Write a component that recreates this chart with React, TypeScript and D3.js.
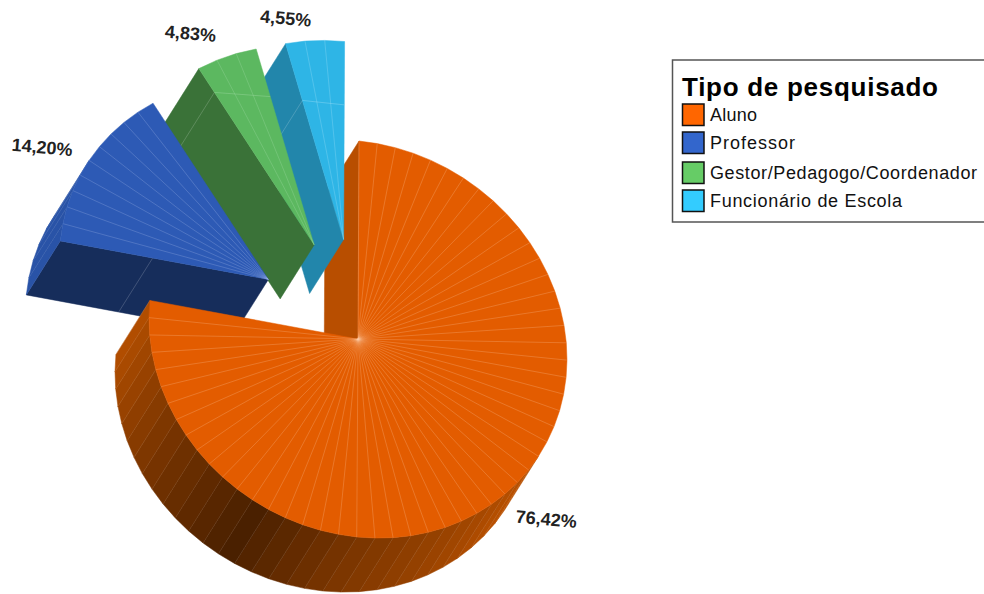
import React from "react";
import * as d3 from "d3";

// Survey respondents by type, in percent
const categories = ["Aluno", "Professor", "Gestor/Pedagogo/Coordenador", "Funcionário de Escola"];
const shares = [76.42, 14.2, 4.83, 4.55];
const legendTitle = "Tipo de pesquisado";

// Colours of each slice: legend swatch, top face, cut wall, outer rim
const swatchColors = ["#ff6600", "#3366cc", "#66cc66", "#33ccff"];
const topColors = ["#e35c00", "#2d5ab5", "#5cb860", "#2eb5e6"];
const wallColors = ["#b84e00", "#162d5b", "#3a7238", "#2286ab"];
const rimColors = ["#b85000", "#2b56ae", "#3a7238", "#2286ab"];
const rayColors = ["#ffd0a8", "#b8c8f0", "#b8e8bc", "#c0ecfa"];

const W = 984;
const H = 594;
const CX = 358;
const CY = 339;
const EXTRUDE: [number, number] = [-34, 54];
const FACET_DEG = 5;
const EXPLODE = [0, 0.5, 0.5, 0.5];
// Where the polygon mesh of each wall crosses its edge, as a fraction of the radius
const wallMesh = [0, 0.556, 0.865, 0.71];
// Far end of the mesh chord on the top face (fraction along the closing edge)
const chordEnd = [0, 0, 0.757, 0.68];
const labelNudge: [number, number][] = [[48, 20], [-47, -13], [-36, -23], [-29, -22]];

type P = [number, number];

// Tilted-disc projection; the angle runs clockwise from 12 o'clock
const project = (a: number, r = 1): P => [
  r * (209 * Math.sin(a) + Math.cos(a)),
  r * (21 * Math.sin(a) - 198 * Math.cos(a)),
];
const add = (p: P, q: P): P => [p[0] + q[0], p[1] + q[1]];
const poly = d3.line<P>().curve(d3.curveLinearClosed);
const seg = d3.line<P>();

// Rim brightness depends on how each facet faces the light
const rimLight = d3
  .scaleLinear<number>()
  .domain([128, 180, 208, 240, 272])
  .range([1, 0.66, 0.4, 0.66, 0.96])
  .clamp(true);

const rimVisible = (a: number) => {
  const [nx, ny] = project(a);
  return nx * EXTRUDE[0] + ny * EXTRUDE[1] > 0;
};

const arcs = d3
  .pie<number>()
  .sort(null)
  .startAngle(0)
  .endAngle(2 * Math.PI)(shares);

function Slice({ i }: { i: number }) {
  const arc = arcs[i];
  const mid = (arc.startAngle + arc.endAngle) / 2;
  const center = add([CX, CY], project(mid, EXPLODE[i]));
  const span = arc.endAngle - arc.startAngle;
  const n = Math.round((span * 180) / Math.PI / FACET_DEG);
  const angles = d3.range(n + 1).map((k) => arc.startAngle + (span * k) / n);
  const rim = angles.map((a) => add(center, project(a)));
  const rays = rim.map((p) => seg([center, p]) as string);

  const facets = angles.slice(0, -1).map((a, k) => {
    const m = (a + angles[k + 1]) / 2;
    if (!rimVisible(m)) return null;
    const shade = d3.interpolateRgb("#000", rimColors[i])(rimLight((m * 180) / Math.PI));
    const pts: P[] = [rim[k], rim[k + 1], add(rim[k + 1], EXTRUDE), add(rim[k], EXTRUDE)];
    return (
      <g key={k}>
        <path d={poly(pts) as string} fill={shade} stroke={shade} strokeWidth={0.5} />
        <path d={seg([rim[k + 1], add(rim[k + 1], EXTRUDE)]) as string} stroke="#fff" strokeOpacity={0.22} strokeWidth={0.6} />
      </g>
    );
  });

  const chordStart = add(center, project(arc.startAngle, wallMesh[i]));
  const chordStop = add(center, project(arc.endAngle, chordEnd[i]));

  return (
    <g>
      {facets}
      {wallMesh[i] > 0 && (
        <path
          d={seg([chordStart, add(chordStart, EXTRUDE)]) as string}
          stroke="#fff"
          strokeOpacity={0.3}
          strokeWidth={0.6}
        />
      )}
      <path d={poly([center, ...rim]) as string} fill={topColors[i]} stroke={topColors[i]} strokeWidth={0.5} />
      {rays.slice(i === 0 ? 0 : 1, -1).map((d, k) => (
        <path key={k} d={d} stroke={rayColors[i]} strokeOpacity={0.42} strokeWidth={0.6} fill="none" />
      ))}
      {chordEnd[i] > 0 && (
        <path d={seg([chordStart, chordStop]) as string} stroke={rayColors[i]} strokeOpacity={0.5} strokeWidth={0.6} />
      )}
    </g>
  );
}

function Wall({ i }: { i: number }) {
  const arc = arcs[i];
  const mid = (arc.startAngle + arc.endAngle) / 2;
  const center = add([CX, CY], project(mid, EXPLODE[i]));
  const edge = add(center, project(arc.startAngle));
  const pts: P[] = [center, edge, add(edge, EXTRUDE), add(center, EXTRUDE)];
  return <path d={poly(pts) as string} fill={wallColors[i]} stroke={wallColors[i]} strokeWidth={0.5} />;
}

function ValueLabel({ i }: { i: number }) {
  const arc = arcs[i];
  const mid = (arc.startAngle + arc.endAngle) / 2;
  const center = add([CX, CY], project(mid, EXPLODE[i]));
  const [x, y] = add(add(center, project(mid)), labelNudge[i]);
  return (
    <text
      transform={`translate(${x},${y}) rotate(5)`}
      textAnchor="middle"
      dominantBaseline="central"
      fontFamily="Liberation Sans"
      fontWeight="bold"
      fontSize={18}
      fill="#222"
    >
      {shares[i].toFixed(2).replace(".", ",")}%
    </text>
  );
}

function Legend() {
  const swatchY = [104, 132, 162, 190];
  const widths = [47, 85, 267, 192];
  return (
    <g fontFamily="Liberation Sans">
      <rect x={672.5} y={60} width={340} height={162} fill="#fff" stroke="#555" strokeWidth={1.5} />
      <text x={682} y={96} fontSize={26} fontWeight="bold" fill="#000" textLength={256} lengthAdjust="spacing">
        {legendTitle}
      </text>
      {categories.map((c, i) => (
        <g key={c}>
          <rect x={682.5} y={swatchY[i]} width={21.5} height={21.5} fill={swatchColors[i]} stroke="#111" strokeWidth={1.5} />
          <text x={710} y={swatchY[i] + 16.5} fontSize={18} fill="#111" textLength={widths[i]} lengthAdjust="spacing">
            {c}
          </text>
        </g>
      ))}
    </g>
  );
}

export default function App() {
  return (
    <svg width={W} height={H} style={{ position: "absolute", left: 0, top: 0, background: "#fff" }}>
      <Wall i={0} />
      {[3, 2, 1].map((i) => (
        <g key={i}>
          <Wall i={i} />
          <Slice i={i} />
        </g>
      ))}
      <Slice i={0} />
      {categories.map((_, i) => (
        <ValueLabel key={i} i={i} />
      ))}
      <Legend />
    </svg>
  );
}
